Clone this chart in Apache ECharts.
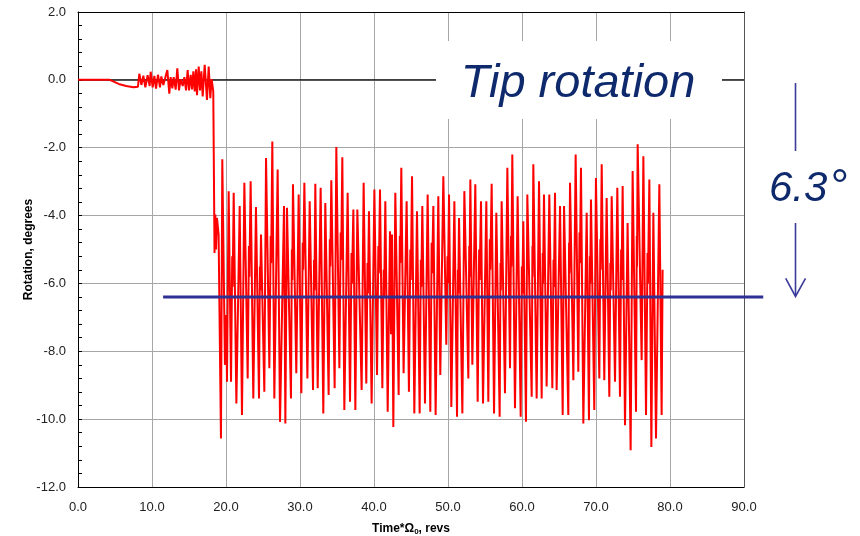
<!DOCTYPE html>
<html>
<head>
<meta charset="utf-8">
<script src="https://cdn.jsdelivr.net/npm/echarts@6/dist/echarts.min.js"></script>
<style>html,body{margin:0;padding:0;background:#fff}#c{width:860px;height:536px}</style>
</head>
<body>
<div id="c"></div>
<script>
// Time*Omega0 (revs) and tip rotation (degrees): turning points
const time = [
  0, 4.3, 5.5, 6.5, 7.5, 8.1,
  8.29, 8.56, 8.83, 9.1, 9.41, 9.68, 9.82, 10.09, 10.32, 10.54, 10.81, 11.08, 11.26, 11.53,
  12.07, 12.34, 12.52, 12.75, 12.93, 13.2, 13.42, 13.65, 13.87, 14.15, 14.37, 14.6, 14.82, 15.0,
  15.23, 15.41, 15.59, 15.77, 15.95, 16.08, 16.31, 16.49, 16.67, 16.85, 17.12, 17.43, 17.66, 17.88,
  18.06, 18.28,
  18.45, 18.56, 18.65, 18.78, 19.0, 19.32, 19.5, 19.86, 20.04, 20.13, 20.36, 20.68, 21.04, 21.4,
  21.85, 22.16, 22.48, 22.93, 23.33, 23.69, 24.05, 24.46, 24.73, 25.18, 25.41, 25.86, 26.26, 26.53,
  26.98, 27.3, 27.84, 28.02, 28.24, 28.78, 29.05, 29.5, 29.82, 30.18, 30.59, 31.0, 31.31, 31.76,
  32.07, 32.39, 32.79, 33.15, 33.42, 33.87, 34.23, 34.68, 34.91, 35.32, 35.72, 35.99, 36.44, 36.76,
  37.21, 37.48, 37.75, 38.33, 38.6, 38.96, 39.32, 39.68, 40.05, 40.41, 40.81, 41.13, 41.53, 41.85,
  42.16, 42.3, 42.43, 42.61, 42.88, 43.33, 43.69, 44.0, 44.41, 44.72, 45.14, 45.45, 45.81, 46.17,
  46.53, 46.89, 47.25, 47.61, 48.02, 48.33, 48.69, 48.96, 49.37, 49.77, 50.14, 50.45, 50.86, 51.22,
  51.49, 51.94, 52.21, 52.75, 53.02, 53.29, 53.69, 54.01, 54.46, 54.73, 55.18, 55.45, 55.9, 56.22,
  56.53, 56.98, 57.25, 57.7, 58.02, 58.38, 58.69, 59.05, 59.41, 59.82, 60.18, 60.54, 60.72, 61.31,
  61.53, 61.98, 62.3, 62.66, 62.97, 63.33, 63.69, 64.1, 64.46, 64.68, 65.14, 65.5, 65.68, 66.26,
  66.49, 66.94, 67.25, 67.61, 67.97, 68.29, 68.74, 69.05, 69.32, 69.77, 69.99, 70.45, 70.77, 71.12,
  71.44, 71.8, 72.12, 72.57, 72.88, 73.24, 73.6, 73.92, 74.27, 74.68, 74.95, 75.41, 75.63, 76.17,
  76.4, 76.76, 77.21, 77.48, 77.75, 78.11, 78.56, 78.87, 79.0
];
const rotation = [
  0, 0, -0.12, -0.18, -0.22, -0.2,
  0.18, -0.15, 0.12, -0.22, 0.14, -0.18, 0.24, -0.22, 0.12, -0.26, 0.15, -0.22, 0.10, -0.15,
  0.29, -0.41, 0.08, -0.25, 0.08, -0.29, 0.34, -0.31, 0.02, -0.18, 0.08, -0.31, 0.29, -0.31,
  0.15, -0.28, 0.25, -0.34, 0.31, -0.45, 0.39, -0.31, 0.25, -0.49, 0.44, -0.59, 0.39, -0.54,
  0.02, -0.34,
  -5.1, -3.97, -5.0, -4.07, -4.56, -10.57, -2.34, -8.4, -6.93, -8.9, -3.28, -8.9, -3.33, -9.54,
  -3.72, -9.88, -3.03, -8.8, -2.99, -9.39, -3.75, -9.39, -4.56, -9.19, -2.3, -8.5, -1.82, -9.39,
  -2.64, -10.08, -3.72, -10.13, -3.77, -9.39, -3.08, -8.65, -3.38, -9.24, -3.03, -8.8, -3.58, -9.14,
  -3.06, -9.09, -3.18, -9.83, -3.63, -9.29, -2.96, -9.09, -1.98, -8.5, -2.28, -9.73, -3.33, -9.49,
  -3.82, -9.73, -3.82, -9.14, -3.03, -8.95, -3.87, -9.54, -3.23, -8.7, -3.23, -9.09, -3.58, -9.78,
  -4.46, -7.5, -4.56, -10.23, -3.33, -9.29, -2.59, -8.65, -3.58, -9.19, -2.84, -9.83, -3.87, -9.83,
  -3.72, -9.54, -3.38, -9.78, -3.72, -9.88, -3.43, -8.7, -2.84, -7.81, -3.38, -9.64, -3.58, -9.93,
  -4.07, -9.83, -3.28, -8.8, -2.94, -8.4, -3.08, -9.49, -3.58, -9.54, -3.58, -9.49, -3.06, -9.83,
  -3.92, -9.93, -3.58, -9.24, -2.59, -8.5, -2.2, -9.68, -3.43, -9.93, -4.17, -10.08, -3.38, -9.34,
  -2.49, -9.39, -2.99, -9.39, -3.38, -9.04, -3.38, -9.09, -3.33, -9.14, -3.72, -9.88, -3.72, -9.88,
  -3.03, -8.85, -2.2, -8.6, -2.59, -10.13, -3.92, -10.03, -3.53, -9.73, -2.89, -8.8, -2.49, -8.85,
  -3.48, -9.34, -3.43, -8.9, -3.18, -9.34, -3.13, -10.18, -4.22, -10.92, -2.69, -9.78, -1.9, -8.26,
  -2.25, -9.88, -2.94, -10.82, -3.92, -10.57, -3.08, -9.88, -5.6
];
// mid-level shoulders seen on the rising flanks
const shoulderTime = [
  20.84, 20.9, 23.1, 23.16, 24.58, 24.62, 26.04, 26.1, 28.9, 28.95, 30.37, 30.43, 31.9, 31.95,
  34.03, 34.09, 35.5, 35.56, 36.96, 37.02, 39.12, 39.18, 40.59, 40.65, 41.31, 41.37, 43.49, 43.55,
  44.91, 44.97, 46.33, 46.39, 47.79, 47.85, 49.93, 49.99, 51.34, 51.38, 52.87, 52.91, 54.21, 54.27,
  55.65, 55.71, 57.1, 57.14, 58.52, 58.56, 59.98, 60.04, 61.41, 61.44, 62.8, 62.84, 64.26, 64.31,
  66.36, 66.4, 67.77, 67.83, 69.17, 69.21, 70.59, 70.64, 71.94, 71.99, 73.4, 73.46, 75.51, 75.54,
  76.96, 77.02
];
const shoulderRotation = [
  -5.2, -6.1, -4.9, -5.8, -5.5, -6.2, -4.6, -5.4, -5.0, -5.9, -4.8, -5.6, -5.3, -6.2,
  -4.7, -5.5, -4.5, -5.3, -5.1, -6.0, -5.4, -6.3, -4.9, -5.7, -5.6, -6.4, -4.6, -5.4,
  -5.0, -5.9, -5.3, -6.1, -4.8, -5.7, -5.2, -6.0, -5.6, -6.3, -4.9, -5.8, -5.0, -5.9,
  -4.7, -5.6, -5.4, -6.2, -4.6, -5.5, -5.5, -6.3, -4.9, -5.8, -5.1, -6.0, -5.3, -6.1,
  -4.8, -5.7, -4.5, -5.4, -5.2, -6.0, -4.7, -5.6, -5.4, -6.2, -5.0, -5.9, -4.6, -5.5,
  -5.1, -6.0
];
// reference level line (blue) and zero baseline
const refTime = [11.5, 92.6];
const refLevel = -6.4;
const zeroTime = [0, 90];
const zeroLevel = [0, 0];
const xTicks = { min: 0, max: 90, interval: 10 };
const yTicks = { min: -12, max: 2, interval: 2 };

const zip = (a, b) => a.map((v, i) => [v, b[i]]);
const seriesData = zip(time, rotation).concat(zip(shoulderTime, shoulderRotation)).sort((p, q) => p[0] - q[0]);

const chart = echarts.init(document.getElementById('c'), null, { renderer: 'canvas' });
const labelFont = { fontFamily: 'Liberation Sans, Arial, sans-serif', fontSize: 13, color: '#222' };
const navy = '#0f2a6c';
const arrowBlue = '#3b3b9b';
chart.setOption({
  animation: false,
  backgroundColor: '#fff',
  grid: { left: 78, right: 116, top: 12, bottom: 49, containLabel: false, outerBoundsMode: 'none' },
  xAxis: [{
    type: 'value', min: xTicks.min, max: xTicks.max, interval: xTicks.interval,
    position: 'bottom',
    axisLine: { show: true, onZero: false, lineStyle: { color: '#000', width: 1 } },
    axisTick: { show: false },
    axisLabel: Object.assign({ margin: 14, formatter: v => v.toFixed(1) }, labelFont),
    splitLine: { show: true, lineStyle: { color: '#a6a6a6', width: 1 } },
    name: 'Time*Ω{sub|0}, revs',
    nameLocation: 'middle', nameGap: 35, nameMoveOverlap: false,
    nameTextStyle: {
      fontFamily: 'Liberation Sans, Arial, sans-serif', fontWeight: 'bold', fontSize: 12, color: '#000',
      rich: { sub: { fontSize: 8, fontWeight: 'bold', verticalAlign: 'bottom', padding: [6, 0, 0, 0], fontFamily: 'Liberation Sans, Arial, sans-serif' } }
    }
  }, {
    type: 'value', min: xTicks.min, max: xTicks.max, interval: xTicks.interval,
    position: 'top',
    axisLine: { show: true, onZero: false, lineStyle: { color: '#000', width: 1 } },
    axisTick: { show: false }, axisLabel: { show: false }, splitLine: { show: false }
  }],
  yAxis: [{
    type: 'value', min: yTicks.min, max: yTicks.max, interval: yTicks.interval,
    position: 'left',
    axisLine: { show: true, onZero: false, lineStyle: { color: '#000', width: 1 } },
    axisTick: { show: true, inside: true, length: 4, lineStyle: { color: '#000' } },
    minorTick: { show: true, splitNumber: 5, length: 4, lineStyle: { color: '#000', width: 1 } },
    axisLabel: Object.assign({ margin: 12, formatter: v => v.toFixed(1) }, labelFont),
    splitLine: { show: true, lineStyle: { color: '#a6a6a6', width: 1 } },
    name: 'Rotation, degrees',
    nameLocation: 'middle', nameGap: 43, nameRotate: 90, nameMoveOverlap: false,
    nameTextStyle: { fontFamily: 'Liberation Sans, Arial, sans-serif', fontWeight: 'bold', fontSize: 12, color: '#000' }
  }, {
    type: 'value', min: yTicks.min, max: yTicks.max, interval: yTicks.interval,
    position: 'right',
    axisLine: { show: true, onZero: false, lineStyle: { color: '#555', width: 1 } },
    axisTick: { show: false }, axisLabel: { show: false }, splitLine: { show: false }
  }],
  series: [{
    name: 'zero', type: 'line', data: zip(zeroTime, zeroLevel), symbol: 'none', silent: true,
    lineStyle: { color: '#000', width: 1.3 }, z: 1
  }, {
    name: 'Tip rotation', type: 'line', data: seriesData, symbol: 'none',
    lineStyle: { color: '#ff0000', width: 2 }, z: 2
  }],
  graphic: [
    { type: 'rect', z: 50, shape: { x: 436, y: 41, width: 286, height: 78 }, style: { fill: '#fff' } },
    { type: 'text', z: 51, x: 578, y: 84,
      style: { text: 'Tip rotation', fill: navy, font: 'italic 47px "Liberation Sans", Arial, sans-serif', textAlign: 'center', textVerticalAlign: 'middle' } },
    { type: 'text', z: 51, x: 769, y: 189,
      style: { text: '6.3', fill: navy, font: 'italic 42px "Liberation Sans", Arial, sans-serif', textAlign: 'left', textVerticalAlign: 'middle' } },
    { type: 'text', z: 51, x: 829, y: 189,
      style: { text: '°', fill: navy, font: 'italic 46px "Liberation Sans", Arial, sans-serif', textAlign: 'left', textVerticalAlign: 'middle' } },
    { type: 'line', z: 51, shape: { x1: 795.5, y1: 83, x2: 795.5, y2: 151 }, style: { stroke: arrowBlue, lineWidth: 1.6 } },
    { type: 'line', z: 51, shape: { x1: 795.5, y1: 223, x2: 795.5, y2: 296 }, style: { stroke: arrowBlue, lineWidth: 1.6 } },
    { type: 'polyline', z: 51, shape: { points: [[785.7, 278.3], [795.5, 296.5], [805.5, 278.3]] }, style: { stroke: arrowBlue, lineWidth: 1.6, fill: null } }
  ]
});
// blue level line: positioned through the chart's own scales (extends past the plot area)
const p1 = chart.convertToPixel({ xAxisIndex: 0, yAxisIndex: 0 }, [refTime[0], refLevel]);
const p2 = chart.convertToPixel({ xAxisIndex: 0, yAxisIndex: 0 }, [refTime[1], refLevel]);
chart.setOption({
  graphic: [{ id: 'level', type: 'line', z: 40, shape: { x1: p1[0], y1: p1[1], x2: p2[0], y2: p2[1] }, style: { stroke: '#2e3192', lineWidth: 3 } }]
});
</script>
</body>
</html>
